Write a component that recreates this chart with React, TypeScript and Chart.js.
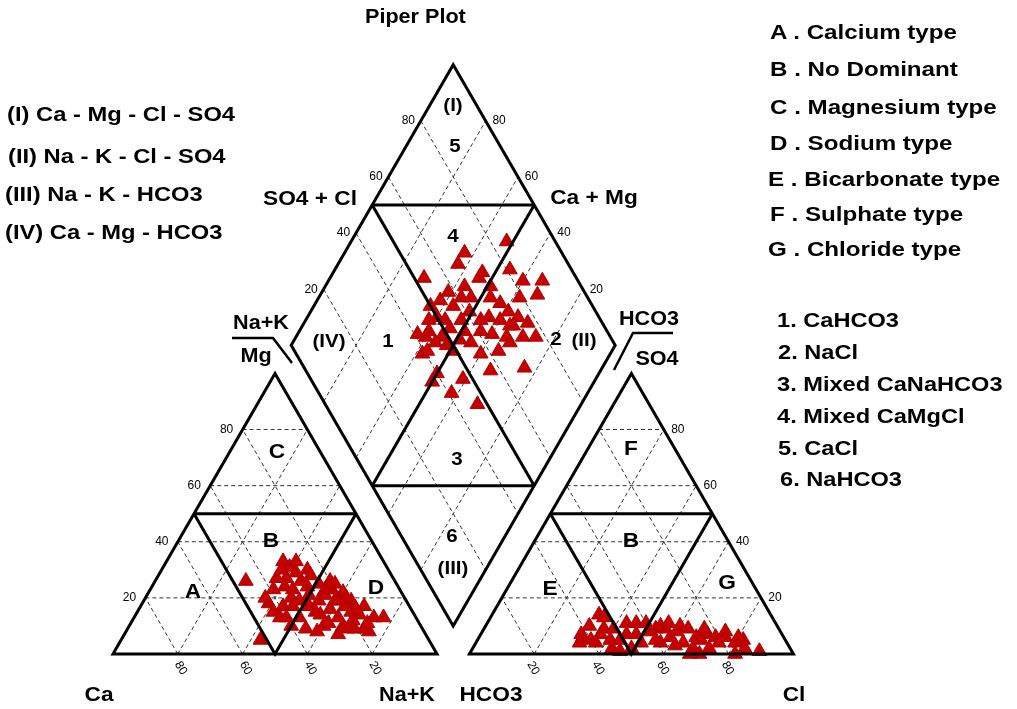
import React, { useEffect, useRef } from "react";
import { Chart, registerables } from "chart.js";

Chart.register(...registerables);

// ---------- data (percentages) ----------
// Cation triangle: Mg %, Na+K %  (Ca = remainder)
const cationMg = [26, 5, 33, 31, 29, 30, 28, 27, 27, 26, 23, 24, 23, 24, 25, 26, 23, 22, 19, 17, 13, 13, 19, 17, 13, 16, 13, 12, 9, 10, 7, 9, 8, 18, 15, 17, 17, 13, 20, 19, 17, 14, 15, 21, 21, 10, 20, 19, 14, 10, 9, 23, 25, 20, 16, 11, 15, 11, 9, 8, 30, 33, 19, 13];
const cationNaK = [28, 43, 36, 39, 42, 45, 47, 37, 40, 45, 38, 41, 44, 48, 51, 54, 56, 60, 64, 69, 74, 77, 54, 52, 51, 59, 63, 68, 55, 60, 66, 73, 75, 39, 42, 44, 47, 45, 37, 60, 63, 57, 66, 50, 55, 50, 45, 59, 69, 66, 70, 54, 56, 62, 67, 73, 55, 61, 68, 59, 37, 40, 48, 47];

// Anion triangle: SO4 %, Cl %  (HCO3 = remainder)
const anionSO4 = [14, 10, 6, 7, 5, 4, 2, 11, 11, 11, 7, 7, 8, 9, 9, 8, 9, 6, 7, 6, 6, 4, 2, 1, 4, 4, 3, 2, 2, 1, 2, 7, 4, 13, 0, 0, 0, 5, 5, 6, 4, 5, 4, 5, 9, 9, 10, 9, 8, 6, 5, 11, 10];
const anionCl = [33, 32, 32, 37, 41, 37, 43, 43, 46, 49, 45, 48, 51, 53, 56, 60, 63, 67, 70, 73, 76, 80, 84, 89, 51, 57, 62, 68, 73, 46, 49, 31, 32, 35, 71, 82, 68, 44, 55, 59, 64, 69, 75, 82, 37, 40, 54, 68, 75, 80, 35, 56, 60];

// Diamond: SO4+Cl %, Na+K %
const diamondSO4Cl = [85, 70, 66, 53, 81, 72, 70, 83, 89, 85, 79, 58, 61, 64, 70, 54, 57, 50, 73, 75, 66, 63, 45, 43, 48, 56, 61, 64, 68, 73, 77, 39, 49, 56, 57, 63, 68, 68, 57, 40, 47, 37, 41, 47, 41, 41, 47, 57, 48, 69, 72, 45, 52, 52, 61, 72, 72, 64, 50, 53, 71, 77];
const diamondNaK = [48, 37, 37, 29, 54, 46, 46, 60, 66, 67, 62, 39, 44, 47, 53, 38, 43, 40, 61, 65, 56, 54, 40, 40, 45, 51, 56, 60, 65, 70, 74, 42, 51, 55, 60, 65, 67, 76, 66, 50, 59, 50, 58, 68, 37, 43, 38, 48, 48, 60, 65, 44, 46, 43, 49, 57, 51, 43, 36, 51, 64, 69];

const gridTicks = [20, 40, 60, 80];
const tickLabels = ["20", "40", "60", "80"];

const titleText = "Piper Plot";
const domainLegend = ["(I) Ca - Mg - Cl - SO4", "(II) Na - K - Cl - SO4", "(III) Na - K - HCO3", "(IV) Ca - Mg - HCO3"];
const typeLegend = ["A . Calcium type", "B . No Dominant", "C . Magnesium type", "D . Sodium type", "E . Bicarbonate type", "F . Sulphate type", "G . Chloride type"];
const facieLegend = ["1. CaHCO3", "2. NaCl", "3. Mixed CaNaHCO3", "4. Mixed CaMgCl", "5. CaCl", "6. NaHCO3"];

// ---------- geometry ----------
const W = 1017;
const H = 709;
const SIDE = 100;
const GAP = 10;
const S60 = Math.sqrt(3) / 2;
const PX = 3.24; // pixels per unit
const OX = 113;
const OY = 654;

type P = { x: number; y: number };
const cat = (mg: number, nak: number): P => ({ x: nak + mg / 2, y: mg * S60 });
const an = (so4: number, cl: number): P => ({ x: SIDE + GAP + cl + so4 / 2, y: so4 * S60 });
const dia = (s: number, n: number): P => ({
  x: SIDE + GAP / 2 - SIDE / 2 + (s + n) / 2,
  y: GAP * S60 + S60 * (s + 100 - n),
});

const FONT = '"Liberation Sans", Arial, Helvetica, sans-serif';

function buildDatasets() {
  const ds: any[] = [];
  const line = (pts: P[], bold: boolean) =>
    ds.push({
      data: pts,
      showLine: true,
      pointRadius: 0,
      pointHoverRadius: 0,
      borderColor: bold ? "#000" : "#333",
      borderWidth: bold ? 3 : 1,
      borderDash: bold ? [] : [4, 3],
      borderJoinStyle: "miter",
      borderCapStyle: "butt",
      fill: false,
      tension: 0,
      order: bold ? 0 : 2,
    });

  gridTicks.forEach((t) => {
    line([cat(t, 0), cat(t, 100 - t)], false);
    line([cat(0, t), cat(100 - t, t)], false);
    line([cat(0, 100 - t), cat(100 - t, 0)], false);
    line([an(t, 0), an(t, 100 - t)], false);
    line([an(0, t), an(100 - t, t)], false);
    line([an(0, 100 - t), an(100 - t, 0)], false);
    line([dia(t, 0), dia(t, 100)], false);
    line([dia(0, t), dia(100, t)], false);
  });

  // outlines
  line([cat(0, 0), cat(0, 100), cat(100, 0), cat(0, 0), cat(0, 100)], true);
  line([an(0, 0), an(0, 100), an(100, 0), an(0, 0), an(0, 100)], true);
  line([dia(0, 0), dia(100, 0), dia(100, 100), dia(0, 100), dia(0, 0), dia(100, 0)], true);
  // divisions
  line([cat(50, 0), cat(50, 50)], true);
  line([cat(50, 0), cat(0, 50), cat(50, 50)], true);
  line([an(50, 0), an(50, 50)], true);
  line([an(50, 0), an(0, 50), an(50, 50)], true);
  line([dia(50, 0), dia(100, 50)], true);
  line([dia(0, 50), dia(50, 100)], true);
  line([dia(50, 0), dia(50, 100)], true);
  line([dia(0, 50), dia(100, 50)], true);

  const pointStyle = {
    showLine: false,
    pointStyle: "triangle",
    pointRadius: 8.5,
    pointHoverRadius: 8.5,
    backgroundColor: "#c50000",
    borderColor: "#b00000",
    borderWidth: 1,
    order: 1,
  };
  ds.push({ ...pointStyle, label: "Cations", data: cationMg.map((m, i) => cat(m, cationNaK[i])) });
  ds.push({ ...pointStyle, label: "Anions", data: anionSO4.map((q, i) => an(q, anionCl[i])) });
  ds.push({ ...pointStyle, label: "Diamond", data: diamondSO4Cl.map((s, i) => dia(s, diamondNaK[i])) });
  return ds;
}

function drawText(ctx: CanvasRenderingContext2D, s: string, x: number, y: number, size: number, bold = true, sx = 1.08, rot = 0) {
  ctx.save();
  ctx.translate(x, y);
  if (rot) ctx.rotate(rot);
  ctx.scale(sx, 1);
  ctx.font = `${bold ? "bold " : ""}${size}px ${FONT}`;
  ctx.textAlign = "center";
  ctx.textBaseline = "middle";
  ctx.fillStyle = "#000";
  ctx.fillText(s, 0, 0);
  ctx.restore();
}

const labelsPlugin = {
  id: "piperLabels",
  afterDatasetsDraw(chart: any) {
    const ctx: CanvasRenderingContext2D = chart.ctx;
    const xs = chart.scales.x;
    const ys = chart.scales.y;
    const px = (p: P) => ({ x: xs.getPixelForValue(p.x), y: ys.getPixelForValue(p.y) });

    // tick labels
    gridTicks.forEach((t, i) => {
      const lab = tickLabels[i];
      let p = px(cat(t, 0));
      drawText(ctx, lab, p.x - 16, p.y, 12, false, 1);
      p = px(cat(0, 100 - t));
      drawText(ctx, lab, p.x + 3, p.y + 14, 12, false, 1, Math.PI / 3);
      p = px(an(0, t));
      drawText(ctx, lab, p.x - 1, p.y + 14, 12, false, 1, Math.PI / 3);
      p = px(an(t, 100 - t));
      drawText(ctx, lab, p.x + 14, p.y, 12, false, 1);
      p = px(dia(t, 0));
      drawText(ctx, lab, p.x - 12.5, p.y, 12, false, 1);
      p = px(dia(100, 100 - t));
      drawText(ctx, lab, p.x + 13.5, p.y, 12, false, 1);
    });

    // axis labels
    drawText(ctx, "SO4 + Cl", 310, 199, 21);
    drawText(ctx, "Ca + Mg", 594, 198, 21);
    drawText(ctx, "Na+K", 261, 323, 20);
    drawText(ctx, "Mg", 256, 356, 20);
    drawText(ctx, "HCO3", 649, 319, 20);
    drawText(ctx, "SO4", 657, 359, 20);
    drawText(ctx, "Ca", 99, 695, 21);
    drawText(ctx, "Na+K", 407, 695, 20);
    drawText(ctx, "HCO3", 491, 695, 21);
    drawText(ctx, "Cl", 794, 695, 21);

    // region labels
    drawText(ctx, "(I)", 453, 106, 19);
    drawText(ctx, "5", 455, 147, 19);
    drawText(ctx, "4", 453, 237, 19);
    drawText(ctx, "1", 388, 342, 19);
    drawText(ctx, "(IV)", 329, 342, 19);
    drawText(ctx, "2", 556, 340, 19);
    drawText(ctx, "(II)", 584, 341, 19);
    drawText(ctx, "3", 457, 460, 19);
    drawText(ctx, "6", 452, 537, 19);
    drawText(ctx, "(III)", 453, 569, 19);
    drawText(ctx, "C", 277, 452, 21);
    drawText(ctx, "B", 271, 541, 21);
    drawText(ctx, "A", 193, 592, 21);
    drawText(ctx, "D", 376, 588, 21);
    drawText(ctx, "F", 631, 449, 21);
    drawText(ctx, "B", 631, 541, 21);
    drawText(ctx, "E", 550, 589, 21);
    drawText(ctx, "G", 727, 583, 21);

    // bracket strokes next to the side labels
    ctx.save();
    ctx.strokeStyle = "#000";
    ctx.lineWidth = 2.5;
    ctx.lineJoin = "miter";
    ctx.beginPath();
    ctx.moveTo(232, 338);
    ctx.lineTo(273, 338);
    ctx.lineTo(292, 363);
    ctx.stroke();
    ctx.beginPath();
    ctx.moveTo(673, 333);
    ctx.lineTo(633, 333);
    ctx.lineTo(614, 370);
    ctx.stroke();
    ctx.restore();
  },
};

const textStyle = (left: number, capCenter: number, size: number, sx: number): React.CSSProperties => ({
  position: "absolute",
  left,
  top: capCenter - 0.49 * size,
  fontFamily: FONT,
  fontWeight: "bold",
  fontSize: size,
  lineHeight: `${size}px`,
  whiteSpace: "nowrap",
  color: "#000",
  transform: `scaleX(${sx})`,
  transformOrigin: "left center",
});

const domainY = [113, 155, 193, 231];
const domainX = [7, 8, 5, 5];
const typeY = [31, 68, 106, 142, 178, 213, 248];
const typeX = [770, 770, 770, 770, 768, 770, 768];
const facieY = [320, 352, 384, 416, 448, 479];
const facieX = [777, 778, 777, 777, 778, 780];

export default function App() {
  const ref = useRef<HTMLCanvasElement | null>(null);

  useEffect(() => {
    if (!ref.current) return;
    const xMin = -OX / PX;
    const xMax = (W - OX) / PX;
    const yMin = (OY - H) / PX;
    const yMax = OY / PX;
    const chart = new Chart(ref.current, {
      type: "scatter",
      data: { datasets: buildDatasets() },
      options: {
        animation: false,
        responsive: false,
        devicePixelRatio: 1,
        events: [],
        layout: { padding: 0, autoPadding: false },
        plugins: {
          legend: { display: false },
          tooltip: { enabled: false },
          title: { display: false },
        },
        scales: {
          x: { type: "linear", display: false, min: xMin, max: xMax, bounds: "data" },
          y: { type: "linear", display: false, min: yMin, max: yMax, bounds: "data" },
        },
      } as any,
      plugins: [labelsPlugin as any],
    });
    return () => chart.destroy();
  }, []);

  return (
    <div style={{ position: "fixed", left: 0, top: 0, width: W, height: H, background: "#fff", overflow: "hidden" }}>
      <canvas ref={ref} width={W} height={H} style={{ display: "block", position: "absolute", left: 0, top: 0 }} />
      <div style={textStyle(365, 16, 20, 1.08)}>{titleText}</div>
      {domainLegend.map((s, i) => (
        <div key={s} style={textStyle(domainX[i], domainY[i], 21, 1.13)}>{s}</div>
      ))}
      {typeLegend.map((s, i) => (
        <div key={s} style={textStyle(typeX[i], typeY[i], 21, 1.15)}>{s}</div>
      ))}
      {facieLegend.map((s, i) => (
        <div key={s} style={textStyle(facieX[i], facieY[i], 20, 1.18)}>{s}</div>
      ))}
    </div>
  );
}
